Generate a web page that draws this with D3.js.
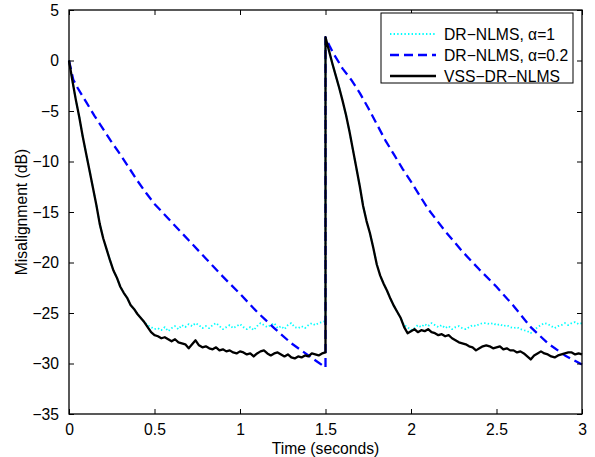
<!DOCTYPE html>
<html><head><meta charset="utf-8">
<script src="https://cdn.jsdelivr.net/npm/d3@7/dist/d3.min.js"></script>
<style>
body{margin:0;background:#fff;}
text{font-family:"Liberation Sans",Arial,Helvetica,sans-serif;}
</style></head>
<body><svg id="c" width="595" height="457"></svg>
<script>
// shared time grid (seconds) for black and cyan series; 1.5 appears twice (reset)
const timeGrid = [0,0.02,0.04,0.06,0.08,0.1,0.12,0.14,0.16,0.18,0.2,0.22,0.24,0.26,0.28,0.3,0.32,0.34,0.36,0.38,0.4,0.42,0.44,0.46,0.48,0.5,0.52,0.54,0.56,0.58,0.6,0.62,0.64,0.66,0.68,0.7,0.72,0.74,0.76,0.78,0.8,0.82,0.84,0.86,0.88,0.9,0.92,0.94,0.96,0.98,1.0,1.02,1.04,1.06,1.08,1.1,1.12,1.14,1.16,1.18,1.2,1.22,1.24,1.26,1.28,1.3,1.32,1.34,1.36,1.38,1.4,1.42,1.44,1.46,1.48,1.5,
1.5,1.52,1.54,1.56,1.58,1.6,1.62,1.64,1.66,1.68,1.7,1.72,1.74,1.76,1.78,1.8,1.82,1.84,1.86,1.88,1.9,1.92,1.94,1.96,1.98,2.0,2.02,2.04,2.06,2.08,2.1,2.12,2.14,2.16,2.18,2.2,2.22,2.24,2.26,2.28,2.3,2.32,2.34,2.36,2.38,2.4,2.42,2.44,2.46,2.48,2.5,2.52,2.54,2.56,2.58,2.6,2.62,2.64,2.66,2.68,2.7,2.72,2.74,2.76,2.78,2.8,2.82,2.84,2.86,2.88,2.9,2.92,2.94,2.96,2.98,3.0];

// VSS-DR-NLMS (black)
const vssValues = [0,-2.0,-3.9,-5.6,-7.5,-9.2,-10.9,-12.6,-14.3,-16.2,-17.6,-18.7,-19.8,-20.8,-21.5,-22.4,-23.0,-23.5,-24.2,-24.6,-25.1,-25.5,-25.9,-26.4,-26.9,-27.2,-27.3,-27.5,-27.4,-27.6,-27.8,-27.6,-27.9,-28.0,-28.1,-28.5,-28.1,-27.7,-28.2,-28.4,-28.3,-28.5,-28.6,-28.4,-28.7,-28.6,-28.8,-28.7,-28.9,-29.0,-28.8,-28.9,-29.1,-29.0,-29.3,-29.0,-28.8,-28.7,-29.0,-29.2,-29.0,-28.9,-29.1,-29.3,-29.1,-29.4,-29.5,-29.3,-29.4,-29.2,-29.3,-29.0,-29.1,-29.2,-29.0,-28.9,
2.3,1.0,-0.3,-1.5,-2.7,-4.0,-5.4,-7.0,-8.8,-10.6,-12.4,-14.4,-15.9,-17.1,-18.6,-20.2,-21.3,-22.1,-22.8,-23.6,-24.3,-24.9,-25.5,-26.4,-27.0,-26.8,-26.6,-26.9,-26.7,-26.8,-26.6,-26.9,-27.0,-27.2,-27.1,-27.3,-27.2,-27.5,-27.7,-27.9,-28.0,-28.1,-28.3,-28.4,-28.7,-28.5,-28.3,-28.2,-28.3,-28.5,-28.4,-28.3,-28.6,-28.5,-28.7,-28.7,-28.9,-28.8,-29.0,-29.3,-29.6,-29.2,-29.0,-28.8,-29.0,-29.1,-29.3,-29.4,-29.2,-29.1,-29.0,-28.9,-28.9,-29.1,-29.0,-29.1];

// DR-NLMS, alpha=1 (cyan)
const drAlpha1Values = [0,-2.0,-3.9,-5.6,-7.5,-9.2,-10.9,-12.6,-14.3,-16.2,-17.6,-18.7,-19.8,-20.8,-21.5,-22.4,-23.0,-23.5,-24.2,-24.6,-25.1,-25.5,-25.9,-26.2,-26.4,-26.6,-26.5,-26.7,-26.4,-26.8,-26.5,-26.3,-26.6,-26.2,-26.4,-26.1,-26.3,-26.0,-26.2,-26.5,-26.3,-26.5,-26.2,-26.0,-26.3,-26.6,-26.4,-26.2,-26.5,-26.3,-26.1,-26.4,-26.6,-26.4,-26.7,-26.3,-26.0,-26.2,-26.4,-26.2,-26.0,-26.5,-26.3,-26.6,-26.2,-26.0,-26.4,-26.5,-26.3,-26.5,-26.2,-26.0,-26.2,-26.0,-25.9,-25.8,
2.3,1.0,-0.3,-1.5,-2.7,-4.0,-5.4,-7.0,-8.8,-10.6,-12.4,-14.4,-15.9,-17.1,-18.6,-20.2,-21.3,-22.1,-22.8,-23.6,-24.3,-24.9,-25.5,-26.2,-26.4,-26.7,-26.5,-26.2,-26.4,-26.1,-26.3,-26.0,-26.2,-26.4,-26.2,-26.5,-26.3,-26.6,-26.4,-26.3,-26.5,-26.6,-26.4,-26.2,-26.3,-26.1,-26.0,-26.0,-26.1,-26.0,-26.2,-26.1,-26.3,-26.2,-26.4,-26.5,-26.4,-26.6,-26.7,-26.8,-27.0,-26.7,-26.4,-26.2,-26.0,-26.1,-26.3,-26.5,-26.3,-26.2,-26.0,-26.2,-26.0,-25.9,-26.1,-26.0];

// DR-NLMS, alpha=0.2 (blue dashed) on its own time grid
const drAlpha02Times = [0,0.025,0.05,0.1,0.15,0.2,0.25,0.3,0.35,0.4,0.45,0.5,0.6,0.7,0.8,0.9,1.0,1.1,1.2,1.3,1.4,1.45,1.5,
1.5,1.525,1.55,1.6,1.65,1.7,1.75,1.8,1.85,1.9,1.95,2.0,2.1,2.2,2.3,2.4,2.5,2.6,2.7,2.8,2.9,3.0];
const drAlpha02Values = [0,-1.9,-2.7,-4.1,-5.5,-6.8,-8.1,-9.3,-10.6,-11.9,-13.1,-14.2,-16.0,-17.8,-19.6,-21.4,-23.1,-24.9,-26.5,-28.0,-29.2,-29.8,-30.4,
2.3,1.4,0.6,-0.8,-1.9,-3.2,-4.7,-6.3,-7.9,-9.3,-10.7,-12.0,-14.7,-16.9,-18.9,-20.7,-22.4,-24.3,-26.4,-28.0,-29.2,-30.1];

const xTicks = [0,0.5,1,1.5,2,2.5,3];
const xTickLabels = ["0","0.5","1","1.5","2","2.5","3"];
const yTicks = [5,0,-5,-10,-15,-20,-25,-30,-35];
const yTickLabels = ["5","0","\u22125","\u221210","\u221215","\u221220","\u221225","\u221230","\u221235"];
const legendLabels = ["DR\u2212NLMS, \u03B1=1","DR\u2212NLMS, \u03B1=0.2","VSS\u2212DR\u2212NLMS"];

const svg = d3.select("#c");
const L=69,R=582,T=10,B=414;
const FS=15.7;
const x = d3.scaleLinear().domain([0,3]).range([L,R]);
const y = d3.scaleLinear().domain([-35,5]).range([B,T]);

const line = d3.line().x(d=>x(d[0])).y(d=>y(d[1]));
const zip = (ts,vs)=>ts.map((t,i)=>[t,vs[i]]);

const styles = [
  {data: zip(timeGrid, drAlpha1Values), color:"#00ffff", width:1.8, dash:"1.4,2.2"},
  {data: zip(drAlpha02Times, drAlpha02Values), color:"#0000ff", width:2.3, dash:"9,5"},
  {data: zip(timeGrid, vssValues), color:"#000000", width:2.3, dash:null}
];

const plot = svg.append("g");
styles.forEach(s=>{
  plot.append("path").attr("d", line(s.data)).attr("fill","none")
    .attr("stroke", s.color).attr("stroke-width", s.width)
    .attr("stroke-dasharray", s.dash).attr("stroke-linejoin","round");
});

// frame
svg.append("rect").attr("x",L).attr("y",T).attr("width",R-L).attr("height",B-T)
  .attr("fill","none").attr("stroke","#000").attr("stroke-width",1.3);

// axes with inward ticks
const ax = g => g.selectAll(".domain").remove();
svg.append("g").attr("transform",`translate(0,${B})`)
  .call(d3.axisBottom(x).tickValues(xTicks).tickFormat((d,i)=>xTickLabels[i]).tickSizeInner(-5).tickSizeOuter(0).tickPadding(10))
  .call(ax);
svg.append("g").attr("transform",`translate(0,${T})`)
  .call(d3.axisTop(x).tickValues(xTicks).tickFormat("").tickSizeInner(-5).tickSizeOuter(0))
  .call(ax);
svg.append("g").attr("transform",`translate(${L},0)`)
  .call(d3.axisLeft(y).tickValues(yTicks).tickFormat((d,i)=>yTickLabels[i]).tickSizeInner(-5).tickSizeOuter(0).tickPadding(10))
  .call(ax);
svg.append("g").attr("transform",`translate(${R},0)`)
  .call(d3.axisRight(y).tickValues(yTicks).tickFormat("").tickSizeInner(-5).tickSizeOuter(0))
  .call(ax);
svg.selectAll(".tick line").attr("stroke","#000").attr("stroke-width",1);
svg.selectAll(".tick text").attr("font-size",FS).attr("fill","#000")
  .attr("font-family","'Liberation Sans',Arial,sans-serif");

svg.append("text").attr("x",(L+R)/2).attr("y",454).attr("text-anchor","middle")
  .attr("font-size",FS).text("Time (seconds)");
svg.append("text").attr("transform",`translate(27,${(T+B)/2}) rotate(-90)`)
  .attr("text-anchor","middle").attr("font-size",FS).text("Misalignment (dB)");

// legend
const lg = svg.append("g");
lg.append("rect").attr("x",381).attr("y",13).attr("width",192).attr("height",70)
  .attr("fill","#fff").attr("stroke","#000").attr("stroke-width",1);
const rowY=[34,55,76];
legendLabels.forEach((lab,i)=>{
  const s=styles[i];
  lg.append("line").attr("x1",390).attr("x2",436).attr("y1",rowY[i]).attr("y2",rowY[i])
    .attr("stroke",s.color).attr("stroke-width",s.width).attr("stroke-dasharray",s.dash);
  lg.append("text").attr("x",444).attr("y",rowY[i]+5.5).attr("font-size",FS).text(lab);
});
</script></body></html>
